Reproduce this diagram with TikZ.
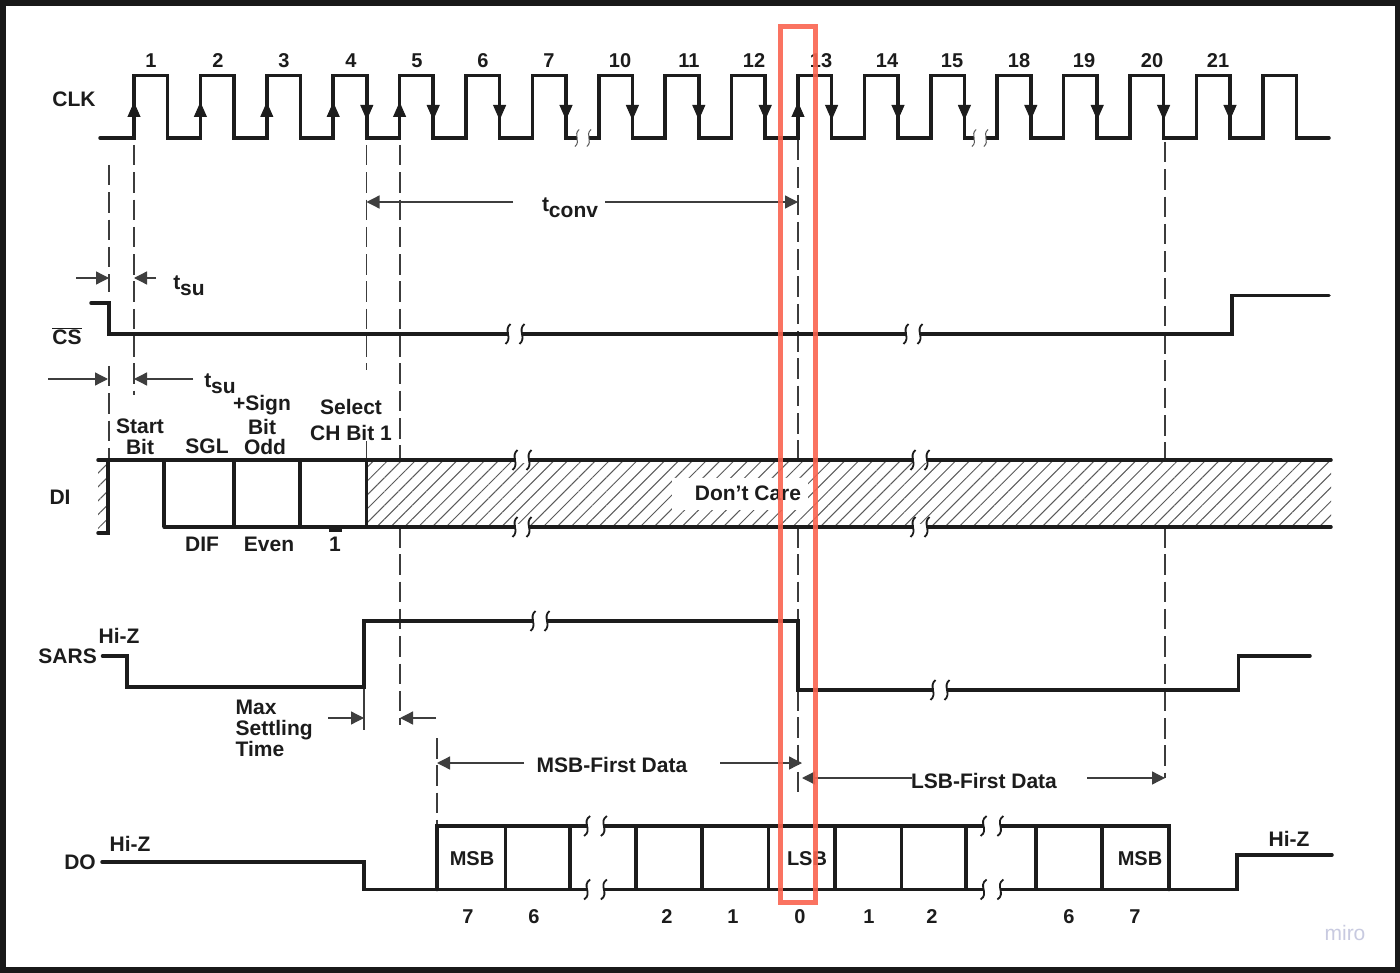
\documentclass[tikz,border=0pt]{standalone}
\usepackage{fontspec}
\setmainfont{Liberation Sans}
\usepackage{tikz}
\usetikzlibrary{arrows.meta,patterns.meta}
\definecolor{inkline}{RGB}{28,28,28}
\definecolor{guideline}{RGB}{60,60,60}
\definecolor{hatchline}{RGB}{90,90,90}
\definecolor{marker}{RGB}{250,100,80}
\definecolor{mirotext}{RGB}{200,202,224}
\tikzset{
    signal/.style = {line width=3.5pt, draw=inkline, line cap=round, line join=miter},
    divider/.style = {line width=3.2pt, draw=inkline},
    guide/.style = {line width=1.3pt, draw=guideline, dash pattern=on 20.5pt off 6.8pt},
    tick/.style = {line width=1.3pt, draw=guideline},
    dimension/.style = {line width=1.3pt, draw=inkline!85, -{Triangle[length=13pt,width=13pt]}},
    edgeup/.style = {line width=1pt, draw=inkline, -{Triangle[length=15pt,width=13pt]}},
    edgedown/.style = {line width=1pt, draw=inkline, -{Triangle[length=15pt,width=13pt]}},
    hatch/.style = {pattern={Lines[angle=45,distance=9.8pt,line width=1pt]}, pattern color=hatchline},
    txt/.style = {inner sep=0pt, text=inkline, font=\fontsize{21}{21}\selectfont\bfseries, align=center},
    num/.style = {inner sep=0pt, text=inkline, font=\fontsize{20}{20}\selectfont\bfseries},
    bigbreak/.style = {line width=1.8pt, draw=inkline},
    widebreak/.style = {line width=1.8pt, draw=inkline, xscale=1.2},
    smallbreak/.style = {line width=1pt, draw=hatchline, scale=.85},
    squiggle/.pic = {
        \fill [white] (-6.5,-3) rectangle (6.5,3);
        \draw (-4.5,-10) .. controls (-12,-4) and (-2,4) .. (-9.5,10);
        \draw (9.5,-10) .. controls (2,-4) and (12,4) .. (4.5,10);
    }
}

\begin{document}
\begin{tikzpicture}[x=1pt,y=-1pt]
\useasboundingbox (0,0) rectangle (1400,973);
\fill [black!90] (0,0) rectangle (1400,973);
\fill [white] (5.5,6) rectangle (1395,967);

% guide lines
\draw [guide] (109,165) -- (109,292);
\draw [guide] (109,366) -- (109,460);
\draw [guide] (134,145) -- (134,395);
\draw [guide] (366.5,145) -- (366.5,370);
\draw [tick] (366.5,441) -- (366.5,460);
\draw [guide] (400,145) -- (400,460);
\draw [guide] (400,527) -- (400,725);
\draw [guide] (798,140) -- (798,460);
\draw [guide] (798,527) -- (798,621);
\draw [guide] (798,690) -- (798,798);
\draw [guide] (1165,142) -- (1165,460);
\draw [guide] (1165,527) -- (1165,778);
\draw [tick] (364,687) -- (364,730);
\draw [guide] (437,738) -- (437,826);

% CLK
\node (clk) [txt] at (74,99) {CLK};
\draw [signal] (100,138) -- (134,138) |- (167.6,75.5) |- (200.4,138) |- (234,75.5) |- (266.8,138)
    |- (300.4,75.5) |- (333.2,138) |- (366.8,75.5) |- (399.6,138) |- (433.2,75.5) |- (466,138)
    |- (499.6,75.5) |- (532.4,138) |- (566,75.5) |- (598.8,138) |- (632.4,75.5) |- (665.2,138)
    |- (698.8,75.5) |- (731.6,138) |- (765.2,75.5) |- (798,138) |- (831.6,75.5) |- (864.4,138)
    |- (898,75.5) |- (930.8,138) |- (964.4,75.5) |- (997.2,138) |- (1030.8,75.5) |- (1063.6,138)
    |- (1097.2,75.5) |- (1130,138) |- (1163.6,75.5) |- (1196.4,138) |- (1230,75.5) |- (1262.8,138)
    |- (1296.4,75.5) |- (1329,138);
\pic [smallbreak] at (583,138) {squiggle};
\pic [smallbreak] at (980,138) {squiggle};
\draw [edgeup] (134,116) -- (134,102);
\draw [edgeup] (200.4,116) -- (200.4,102);
\draw [edgeup] (266.8,116) -- (266.8,102);
\draw [edgeup] (333.2,116) -- (333.2,102);
\draw [edgeup] (399.6,116) -- (399.6,102);
\draw [edgeup] (798,116) -- (798,102);
\draw [edgedown] (366.8,106) -- (366.8,120);
\draw [edgedown] (433.2,106) -- (433.2,120);
\draw [edgedown] (499.6,106) -- (499.6,120);
\draw [edgedown] (566,106) -- (566,120);
\draw [edgedown] (632.4,106) -- (632.4,120);
\draw [edgedown] (698.8,106) -- (698.8,120);
\draw [edgedown] (765.2,106) -- (765.2,120);
\draw [edgedown] (831.6,106) -- (831.6,120);
\draw [edgedown] (898,106) -- (898,120);
\draw [edgedown] (964.4,106) -- (964.4,120);
\draw [edgedown] (1030.8,106) -- (1030.8,120);
\draw [edgedown] (1097.2,106) -- (1097.2,120);
\draw [edgedown] (1163.6,106) -- (1163.6,120);
\draw [edgedown] (1230,106) -- (1230,120);
\node (n1) [num] at (151,61) {1};
\node (n2) [num] at (218,61) {2};
\node (n3) [num] at (284,61) {3};
\node (n4) [num] at (351,61) {4};
\node (n5) [num] at (417,61) {5};
\node (n6) [num] at (483,61) {6};
\node (n7) [num] at (549,61) {7};
\node (n10) [num] at (620,61) {10};
\node (n11) [num] at (689,61) {11};
\node (n12) [num] at (754,61) {12};
\node (n13) [num] at (821,61) {13};
\node (n14) [num] at (887,61) {14};
\node (n15) [num] at (952,61) {15};
\node (n18) [num] at (1019,61) {18};
\node (n19) [num] at (1084,61) {19};
\node (n20) [num] at (1152,61) {20};
\node (n21) [num] at (1218,61) {21};

% tconv and tsu
\node (tconv) [txt] at (570,208) {t\raisebox{-6pt}{conv}};
\coordinate (convLa) at (513,202);
\coordinate (convLb) at (366.5,202);
\coordinate (convRa) at (605,202);
\coordinate (convRb) at (798,202);
\draw [dimension] (convLa) -- (convLb);
\draw [dimension] (convRa) -- (convRb);
\node (tsuA) [txt] at (189,286) {t\raisebox{-6pt}{su}};
\coordinate (suAa) at (76,278);
\coordinate (suAb) at (109,278);
\coordinate (suAc) at (156,278);
\coordinate (suAd) at (134,278);
\draw [dimension] (suAa) -- (suAb);
\draw [dimension] (suAc) -- (suAd);
\node (tsuB) [txt] at (220,384) {t\raisebox{-6pt}{su}};
\coordinate (suBa) at (48,379);
\coordinate (suBb) at (108,379);
\coordinate (suBc) at (193,379);
\coordinate (suBd) at (134,379);
\draw [dimension] (suBa) -- (suBb);
\draw [dimension] (suBc) -- (suBd);

% CS
\node (cs) [txt] at (67,336) {$\overline{\hbox{CS}}$};
\draw [signal] (91,303) -| (109,334) -- (1232,334) |- (1329,295.5);
\pic [bigbreak] at (515,334) {squiggle};
\pic [bigbreak] at (913,334) {squiggle};

% DI
\fill [hatch] (98,460) rectangle (108,533);
\fill [hatch] (366.5,460) rectangle (1331,527);
\node (care) [txt, fill=white, minimum width=136pt, minimum height=32pt] at (740,494) {};
\node (dontcare) [txt] at (748,493) {Don’t Care};
\node (di) [txt] at (60,497) {DI};
\draw [signal] (98,460) -- (1331,460);
\draw [signal] (164,527) -- (1331,527);
\draw [signal] (98,533) -- (108,533) -- (108,460);
\draw [divider] (164,460) -- (164,527);
\draw [divider] (234,460) -- (234,527);
\draw [divider] (300,460) -- (300,527);
\draw [divider] (366.5,460) -- (366.5,527);
\pic [bigbreak] at (522,460) {squiggle};
\pic [bigbreak] at (522,527) {squiggle};
\pic [bigbreak] at (920,460) {squiggle};
\pic [bigbreak] at (920,527) {squiggle};
\node (start) [txt] at (140,437) {Start\\Bit};
\node (sgl) [txt] at (207,446) {SGL};
\node (sign) [txt, font=\fontsize{21}{24}\selectfont\bfseries] at (262,415) {+Sign\\Bit};
\node (odd) [txt] at (265,447) {Odd};
\node (select) [txt, font=\fontsize{21}{26}\selectfont\bfseries] at (351,420) {Select\\CH Bit 1};
\node (dif) [txt] at (202,544) {DIF};
\node (even) [txt] at (269,544) {Even};
\node (one) [txt] at (335,544) {1};
\draw [line width=3pt, draw=inkline] (329,530) -- (342,530);

% SARS
\node (sars) [txt, anchor=east] at (97,656) {SARS};
\node (sarsz) [txt] at (119,636) {Hi-Z};
\draw [signal] (102.5,656) -| (127,687) -- (364,687) |- (798,621) |- (1238.5,690) |- (1310,656);
\pic [bigbreak] at (540,621) {squiggle};
\pic [bigbreak] at (940,690) {squiggle};
\node (settle) [txt, align=left, anchor=north west] at (235.5,700) {Max\\Settling\\Time};
\coordinate (setLa) at (328,718);
\coordinate (setLb) at (364,718);
\coordinate (setRa) at (436,718);
\coordinate (setRb) at (400,718);
\draw [dimension] (setLa) -- (setLb);
\draw [dimension] (setRa) -- (setRb);

% MSB-first and LSB-first spans
\node (msbfirst) [txt] at (612,765) {MSB-First Data};
\coordinate (msbLa) at (524,763);
\coordinate (msbLb) at (437,763);
\coordinate (msbRa) at (720,763);
\coordinate (msbRb) at (802,763);
\draw [dimension] (msbLa) -- (msbLb);
\draw [dimension] (msbRa) -- (msbRb);
\node (lsbfirst) [txt] at (984,781) {LSB-First Data};
\coordinate (lsbLa) at (912,778);
\coordinate (lsbLb) at (802,778);
\coordinate (lsbRa) at (1087,778);
\coordinate (lsbRb) at (1165,778);
\draw [dimension] (lsbLa) -- (lsbLb);
\draw [dimension] (lsbRa) -- (lsbRb);

% DO
\node (do) [txt] at (80,862) {DO};
\node (doz) [txt] at (130,844) {Hi-Z};
\node (doend) [txt] at (1289,839) {Hi-Z};
\draw [signal] (102,862) -| (364,889.5) -- (1237,889.5) |- (1332,855);
\draw [signal] (437,889.5) |- (1169,826) -- (1169,889.5);
\draw [divider] (505.5,826) -- (505.5,889.5);
\draw [divider] (570,826) -- (570,889.5);
\draw [divider] (636,826) -- (636,889.5);
\draw [divider] (702,826) -- (702,889.5);
\draw [divider] (768.5,826) -- (768.5,889.5);
\draw [divider] (835,826) -- (835,889.5);
\draw [divider] (901.5,826) -- (901.5,889.5);
\draw [divider] (966,826) -- (966,889.5);
\draw [divider] (1036,826) -- (1036,889.5);
\draw [divider] (1102,826) -- (1102,889.5);
\pic [widebreak] at (595.5,826) {squiggle};
\pic [widebreak] at (595.5,889.5) {squiggle};
\pic [widebreak] at (992,826) {squiggle};
\pic [widebreak] at (992,889.5) {squiggle};
\node (msbA) [num] at (472,859) {MSB};
\node (lsb) [num] at (807,859) {LSB};
\node (msbB) [num] at (1140,859) {MSB};
\node (b7) [num] at (468,917) {7};
\node (b6) [num] at (534,917) {6};
\node (b2) [num] at (667,917) {2};
\node (b1) [num] at (733,917) {1};
\node (b0) [num] at (800,917) {0};
\node (c1) [num] at (869,917) {1};
\node (c2) [num] at (932,917) {2};
\node (c6) [num] at (1069,917) {6};
\node (c7) [num] at (1135,917) {7};

% highlight and watermark
\draw [line width=5pt, draw=marker, draw opacity=.9] (780,27) rectangle (815.5,902);
\node (miro) [inner sep=0pt, text=mirotext, font=\fontsize{21}{21}\selectfont] at (1345,933) {miro};
\end{tikzpicture}
\end{document}
